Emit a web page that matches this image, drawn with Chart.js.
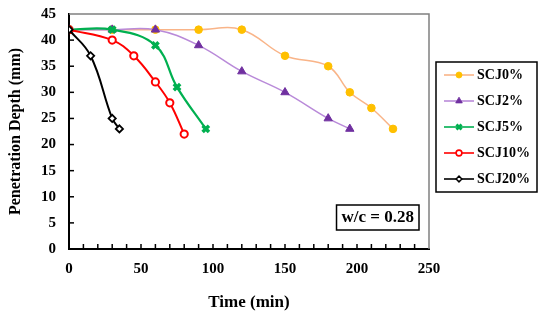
<!DOCTYPE html>
<html>
<head>
<meta charset="utf-8">
<script src="https://cdn.jsdelivr.net/npm/chart.js@4/dist/chart.umd.min.js"></script>
<style>
  html, body { margin: 0; padding: 0; background: #fff; }
  #wrap { width: 550px; height: 320px; position: relative; }
</style>
</head>
<body>
<div id="wrap"><canvas id="chart"></canvas></div>
<script>
// values (time in min, depth in mm)
const scj0x = [0, 30, 60, 90, 120, 150, 180, 195, 210, 225];
const scj0y = [42, 42, 42, 42, 42, 37, 35, 30, 27, 23];
const scj2x = [0, 30, 60, 90, 120, 150, 180, 195];
const scj2y = [42, 42, 42, 39, 34, 30, 25, 23];
const scj5x = [0, 30, 60, 75, 95];
const scj5y = [42, 42, 39, 31, 23];
const scj10x = [0, 30, 45, 60, 70, 80];
const scj10y = [42, 40, 37, 32, 28, 22];
const scj20x = [0, 15, 30, 35];
const scj20y = [42, 37, 25, 23];
const seriesNames = ["SCJ0%", "SCJ2%", "SCJ5%", "SCJ10%", "SCJ20%"];

const FONT = "'Liberation Serif', 'Times New Roman', serif";

const pts = (xs, ys) => xs.map((x, i) => ({ x: x, y: ys[i] }));

const styles = [
  { line: "#F9B488", lw: 1.5, fill: "#FFC000", stroke: "#FFC000", shape: "circle", r: 3.8, bw: 1 },
  { line: "#B98AD9", lw: 1.5, fill: "#7030A0", stroke: "#7030A0", shape: "triangle", r: 4.8, bw: 1 },
  { line: "#00B050", lw: 2.2, fill: "#00B050", stroke: "#00B050", shape: "crossRot", r: 4.5, bw: 3.5 },
  { line: "#FF0000", lw: 2, fill: "#ffffff", stroke: "#FF0000", shape: "circle", r: 3.6, bw: 2 },
  { line: "#000000", lw: 2, fill: "#ffffff", stroke: "#000000", shape: "rectRot", r: 3.6, bw: 1.8 }
];
const seriesData = [
  pts(scj0x, scj0y), pts(scj2x, scj2y), pts(scj5x, scj5y),
  pts(scj10x, scj10y), pts(scj20x, scj20y)
];

// small legend icons: line with marker in the middle
function legendIcon(s) {
  const c = document.createElement("canvas");
  c.width = 30; c.height = 12;
  const g = c.getContext("2d");
  g.strokeStyle = s.line; g.lineWidth = 1.6;
  g.beginPath(); g.moveTo(0, 6); g.lineTo(30, 6); g.stroke();
  g.fillStyle = s.fill; g.strokeStyle = s.stroke; g.lineWidth = s.bw * 0.8;
  Chart.helpers.drawPoint(g, { pointStyle: s.shape, radius: s.r * 0.8, borderWidth: s.bw * 0.8 }, 15, 6);
  return c;
}

const datasets = seriesNames.map((name, i) => {
  const s = styles[i];
  return {
    label: name,
    data: seriesData[i],
    order: seriesNames.length - i, // later series on top, as in the reference
    borderColor: s.line,
    borderWidth: s.lw,
    backgroundColor: s.fill,
    pointBackgroundColor: s.fill,
    pointBorderColor: s.stroke,
    pointBorderWidth: s.bw,
    pointStyle: s.shape,
    pointRadius: s.r,
    tension: 0.4,
    fill: false
  };
});

const frame = {
  id: "frame",
  beforeLayout(chart) {
    const lg = chart.legend;
    if (!lg._fitPatched) {
      const origFit = lg.fit;
      lg.fit = function () { origFit.call(this); this.width = 121; };
      lg._fitPatched = true;
    }
  },
  afterLayout(chart) {
    // put the legend items where the reference has them
    const lg = chart.legend;
    const pad = lg.options.labels.padding;
    lg.left = 448 - pad;
    lg.top = 68 - pad;
  },
  beforeDraw(chart) {
    const { ctx } = chart;
    ctx.save();
    ctx.fillStyle = "#fff";
    ctx.fillRect(0, 0, chart.width, chart.height);
    ctx.restore();
  },
  afterDraw(chart) {
    const { ctx, chartArea: a, scales } = chart;
    ctx.save();
    // top and right border, gray
    ctx.strokeStyle = "#808080"; ctx.lineWidth = 1.5;
    ctx.beginPath();
    ctx.moveTo(a.left, a.top); ctx.lineTo(a.right, a.top); ctx.lineTo(a.right, a.bottom);
    ctx.stroke();
    // inward ticks
    ctx.strokeStyle = "#000"; ctx.lineWidth = 1.5;
    for (let v = 10; v < 250; v += 10) {
      const px = scales.x.getPixelForValue(v);
      ctx.beginPath(); ctx.moveTo(px, a.bottom); ctx.lineTo(px, a.bottom - 5); ctx.stroke();
    }
    for (let v = 5; v < 45; v += 5) {
      const py = scales.y.getPixelForValue(v);
      ctx.beginPath(); ctx.moveTo(a.left, py); ctx.lineTo(a.left + 5, py); ctx.stroke();
    }
    // legend box
    const boxes = chart.legend.legendHitBoxes;
    if (boxes && boxes.length) {
      let t = Infinity, b = -Infinity;
      boxes.forEach(h => {
        t = Math.min(t, h.top + h.height / 2);
        b = Math.max(b, h.top + h.height / 2);
      });
      ctx.strokeStyle = "#000"; ctx.lineWidth = 1.5;
      ctx.strokeRect(436, t - 13, 101, b - t + 26);
    }
    // w/c annotation
    ctx.font = "bold 17px " + FONT;
    const txt = "w/c = 0.28";
    const tw = ctx.measureText(txt).width;
    const bw = tw + 10;
    const bx = a.right - 10 - bw, by = a.bottom - 19 - 25;
    ctx.fillStyle = "#fff";
    ctx.fillRect(bx, by, bw, 25);
    ctx.strokeStyle = "#000"; ctx.lineWidth = 1.5;
    ctx.strokeRect(bx, by, bw, 25);
    ctx.fillStyle = "#000"; ctx.textBaseline = "middle"; ctx.textAlign = "left";
    ctx.fillText(txt, bx + 5, by + 13);
    ctx.restore();
  }
};

const icons = styles.map(legendIcon);

new Chart(document.getElementById("chart"), {
  type: "line",
  data: { datasets: datasets },
  plugins: [frame],
  options: {
    responsive: true,
    maintainAspectRatio: false,
    animation: false,
    layout: { padding: { top: 14, right: 0, left: 0, bottom: 0 } },
    plugins: {
      tooltip: { enabled: false },
      legend: {
        position: "right",
        align: "start",
        labels: {
          usePointStyle: true,
          pointStyleWidth: 22,
          padding: 12,
          color: "#000",
          font: { family: FONT, size: 14, weight: "bold" },
          generateLabels(chart) {
            return chart.data.datasets.map((d, i) => ({
              text: d.label,
              pointStyle: icons[i],
              fillStyle: d.backgroundColor,
              strokeStyle: d.borderColor,
              lineWidth: 0,
              fontColor: "#000",
              datasetIndex: i,
              hidden: false
            }));
          }
        }
      }
    },
    scales: {
      x: {
        type: "linear",
        min: 0, max: 250,
        afterFit(scale) { scale.height = 71; },
        ticks: {
          stepSize: 50,
          color: "#000",
          padding: 11,
          font: { family: FONT, size: 15, weight: "bold" }
        },
        grid: { display: false, drawTicks: false },
        border: { color: "#000", width: 2 },
        title: {
          display: true, text: "Time (min)", color: "#000",
          padding: { top: 0, bottom: 7 },
          font: { family: FONT, size: 17, weight: "bold" }
        }
      },
      y: {
        min: 0, max: 45,
        afterFit(scale) {
          scale.width = 69;
          scale.paddingTop = 0;
          scale.paddingBottom = 0;
        },
        ticks: {
          stepSize: 5,
          color: "#000",
          padding: 13,
          font: { family: FONT, size: 15, weight: "bold" }
        },
        grid: { display: false, drawTicks: false },
        border: { color: "#000", width: 2 },
        title: {
          display: true, text: "Penetration Depth (mm)", color: "#000",
          padding: { top: 6, bottom: 0 },
          font: { family: FONT, size: 16, weight: "bold" }
        }
      }
    }
  }
});
</script>
</body>
</html>
